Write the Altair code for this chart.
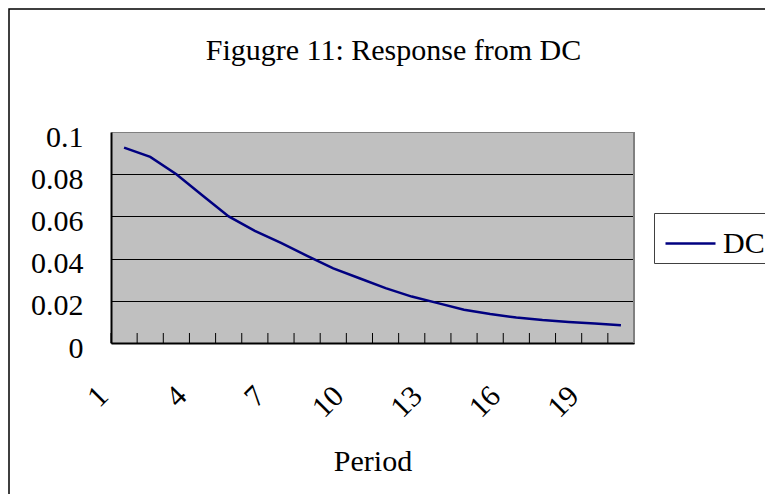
import altair as alt
import pandas as pd

# ---- data ----
periods = list(range(1, 21))
dc_values = [0.0926, 0.0882, 0.0800, 0.0699, 0.0600, 0.0531, 0.0474, 0.0413,
             0.0354, 0.0307, 0.0260, 0.0220, 0.0189, 0.0158, 0.0137, 0.0121,
             0.0109, 0.0100, 0.0092, 0.0084]
series_name = "DC"
chart_title = "Figugre 11: Response from DC"
y_ticks = [0, 0.02, 0.04, 0.06, 0.08, 0.1]
x_label_values = [1, 4, 7, 10, 13, 16, 19]
x_boundaries = [p - 0.5 for p in periods] + [periods[-1] + 0.5]

df = pd.DataFrame({"Period": periods, "value": dc_values, "series": series_name})
bounds = pd.DataFrame({"b": x_boundaries})
one = pd.DataFrame({"k": [0]})
title_df = pd.DataFrame({"t": [chart_title]})

W, H = 523, 211
PL, PT = 103, 124
TOTAL_W, TOTAL_H = 757, 486
FONT = "Liberation Serif"

xscale = alt.Scale(domain=[0.5, 20.5], nice=False, zero=False)
yscale = alt.Scale(domain=[0, 0.1], nice=False)

frame = alt.Chart(one).mark_rect(fillOpacity=0, stroke="black", strokeWidth=1.5).encode(
    x=alt.value(-PL + 1), x2=alt.value(TOTAL_W - PL + 20),
    y=alt.value(-PT + 1), y2=alt.value(TOTAL_H - PT + 20),
)

title_text = alt.Chart(title_df).mark_text(
    font=FONT, fontSize=30, color="black", align="center", baseline="alphabetic"
).encode(text="t:N", x=alt.value(282.5), y=alt.value(-72))

right_edge = alt.Chart(one).mark_rule(color="#808080", strokeWidth=2).encode(
    x=alt.value(W), y=alt.value(0), y2=alt.value(H)
)

ticks = alt.Chart(bounds).mark_rule(color="black", strokeWidth=1).encode(
    x=alt.X("b:Q", scale=xscale),
    y=alt.value(H - 10), y2=alt.value(H),
)

line = alt.Chart(df).mark_line(strokeWidth=2.5).encode(
    x=alt.X("Period:Q", scale=xscale,
            axis=alt.Axis(values=x_label_values, title="Period", grid=False,
                          labelAngle=315, labelAlign="right", labelBaseline="middle",
                          labelOffset=-21, labelPadding=48, tickSize=0,
                          labelFont=FONT, labelFontSize=30, labelColor="black",
                          labelFlush=False, labelOverlap=False,
                          domainColor="black", domainWidth=2,
                          titleFont=FONT, titleFontSize=30, titleFontWeight="normal",
                          titleColor="black", titleY=127, titleBaseline="alphabetic")),
    y=alt.Y("value:Q", scale=yscale,
            axis=alt.Axis(values=y_ticks, title=None, tickSize=0,
                          labelExpr="format(datum.value, '.2~f')",
                          labelFont=FONT, labelFontSize=30, labelColor="black",
                          labelPadding=28, labelOffset=5, labelFlush=False,
                          domainColor="black", domainWidth=2,
                          grid=True, gridWidth=1,
                          gridColor=alt.condition("datum.value >= 0.1", alt.value("#808080"), alt.value("black")))),
    color=alt.Color("series:N", scale=alt.Scale(range=["#000080"]),
                    legend=alt.Legend(title=None, orient="none", legendX=543, legendY=81,
                                      strokeColor="#404040", fillColor="white", padding=4,
                                      symbolType="stroke", symbolSize=2500, symbolStrokeWidth=2.5,
                                      symbolOffset=6,
                                      labelFont=FONT, labelFontSize=30, labelColor="black",
                                      labelOffset=6)),
)

chart = alt.layer(frame, title_text, ticks, right_edge, line).properties(
    width=W, height=H,
    autosize="none",
    padding={"left": PL, "top": PT, "right": TOTAL_W - W - PL, "bottom": TOTAL_H - H - PT},
).configure_view(fill="#C0C0C0", stroke="transparent")

chart.save("out.html", embed_options={"renderer": "svg", "actions": False})
